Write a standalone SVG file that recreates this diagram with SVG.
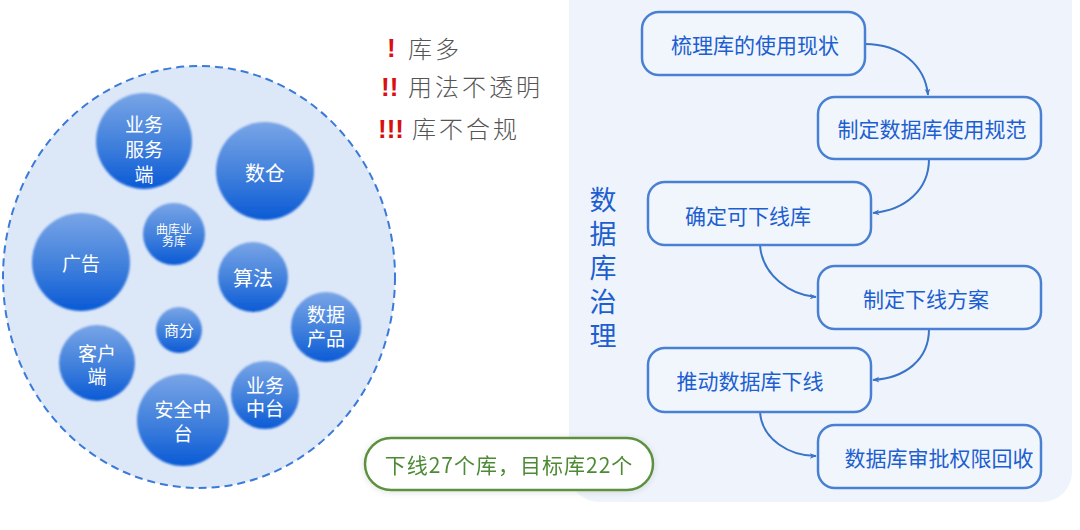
<svg xmlns="http://www.w3.org/2000/svg" width="1080" height="530" viewBox="0 0 1080 530">
<defs>
<linearGradient id="bub" x1="0" y1="0" x2="0" y2="1">
<stop offset="0" stop-color="#79a5e6"/>
<stop offset="0.55" stop-color="#3f7fdc"/>
<stop offset="1" stop-color="#0a5ad6"/>
</linearGradient>
<filter id="soft" x="-20%" y="-20%" width="140%" height="140%">
<feGaussianBlur stdDeviation="0.8"/>
</filter>
<filter id="shadow" x="-10%" y="-30%" width="120%" height="160%">
<feDropShadow dx="0" dy="1" stdDeviation="3" flood-color="#000" flood-opacity="0.12"/>
</filter>
<marker id="arr" viewBox="0 0 10 10" refX="9" refY="5" markerWidth="7" markerHeight="7" orient="auto" markerUnits="userSpaceOnUse">
<path d="M0,1 L10,5 L0,9 L3,5 Z" fill="#3a74c8"/>
</marker>
<style>
.bt{font-family:"Noto Sans CJK SC","Noto Sans",sans-serif;fill:#fff;text-anchor:middle;dominant-baseline:central}
.box{fill:#f1f6fd;stroke:#4a80d2;stroke-width:2.5}
.bx{font-family:"Noto Sans CJK SC","Noto Sans",sans-serif;fill:#1d5fd0;font-size:21px;text-anchor:middle;dominant-baseline:central}
.con{fill:none;stroke:#3a74c8;stroke-width:2}
.iss{font-family:"Noto Sans CJK SC","Noto Sans",sans-serif;fill:#555;font-size:24px;font-weight:300;letter-spacing:3px;dominant-baseline:central}
.ex{font-family:"Liberation Sans",sans-serif;fill:#d81010;font-size:26px;font-weight:bold;dominant-baseline:central}
</style>
</defs>
<rect width="1080" height="530" fill="#fff"/>
<g id="panel">
<rect x="569" y="-30" width="503" height="532" rx="30" fill="#eff4fc"/>
</g>
<g id="pool">
<ellipse cx="199" cy="277" rx="196" ry="211" fill="#dce7f8" stroke="#3a7ad8" stroke-width="2" stroke-dasharray="8,5"/>
</g>
<g id="bubbles">
<g id="b1"><circle cx="144" cy="141" r="48" fill="url(#bub)" filter="url(#soft)"/>
<text class="bt" font-size="19"><tspan x="144" y="123">业务</tspan><tspan x="144" y="148">服务</tspan><tspan x="144" y="173">端</tspan></text></g>
<g id="b2"><circle cx="265" cy="171" r="49" fill="url(#bub)" filter="url(#soft)"/>
<text class="bt" font-size="20" x="265" y="172">数仓</text></g>
<g id="b3"><circle cx="174" cy="234" r="31" fill="url(#bub)" filter="url(#soft)"/>
<text class="bt" font-size="12"><tspan x="174" y="228">曲库业</tspan><tspan x="174" y="240">务库</tspan></text></g>
<g id="b4"><circle cx="81" cy="262" r="49" fill="url(#bub)" filter="url(#soft)"/>
<text class="bt" font-size="19" x="81" y="262">广告</text></g>
<g id="b5"><circle cx="253" cy="277" r="35" fill="url(#bub)" filter="url(#soft)"/>
<text class="bt" font-size="20" x="253" y="277">算法</text></g>
<g id="b6"><circle cx="326" cy="327" r="35" fill="url(#bub)" filter="url(#soft)"/>
<text class="bt" font-size="19"><tspan x="326" y="313">数据</tspan><tspan x="326" y="337">产品</tspan></text></g>
<g id="b7"><circle cx="179" cy="330" r="23" fill="url(#bub)" filter="url(#soft)"/>
<text class="bt" font-size="15" x="179" y="329">商分</text></g>
<g id="b8"><circle cx="97" cy="363" r="38" fill="url(#bub)" filter="url(#soft)"/>
<text class="bt" font-size="19"><tspan x="97" y="352">客户</tspan><tspan x="97" y="375">端</tspan></text></g>
<g id="b9"><circle cx="183" cy="420" r="46" fill="url(#bub)" filter="url(#soft)"/>
<text class="bt" font-size="19"><tspan x="183" y="408">安全中</tspan><tspan x="183" y="432">台</tspan></text></g>
<g id="b10"><circle cx="265" cy="395" r="34" fill="url(#bub)" filter="url(#soft)"/>
<text class="bt" font-size="19"><tspan x="265" y="384">业务</tspan><tspan x="265" y="407">中台</tspan></text></g>
</g>
<g id="issues">
<text class="ex" x="387" y="48">!</text><text class="iss" x="408" y="47">库多</text>
<text class="ex" x="381" y="87">!!</text><text class="iss" x="408" y="85">用法不透明</text>
<text class="ex" x="378" y="129">!!!</text><text class="iss" x="412" y="127">库不合规</text>
</g>
<g id="result" filter="url(#shadow)">
<rect x="365" y="438" width="288" height="52" rx="26" fill="#fff" stroke="#5b9140" stroke-width="2.5"/>
<text x="509" y="464" font-family="Noto Sans CJK SC,Noto Sans,sans-serif" font-size="21" fill="#4e8a35" text-anchor="middle" dominant-baseline="central" letter-spacing="1">下线27个库，目标库22个</text>
</g>
<g id="title">
<text font-family="Noto Sans CJK SC,Noto Sans,sans-serif" font-size="27" fill="#1d5fd0" text-anchor="middle" dominant-baseline="central"><tspan x="603" y="198">数</tspan><tspan x="603" y="232">据</tspan><tspan x="603" y="266">库</tspan><tspan x="603" y="300">治</tspan><tspan x="603" y="334">理</tspan></text>
</g>
<g id="connectors">
<path class="con" d="M865,44 C900,44 925,65 928,95" marker-end="url(#arr)"/>
<path class="con" d="M929,159 C929,190 905,210 873,213" marker-end="url(#arr)"/>
<path class="con" d="M760,245 C762,275 790,295 816,297" marker-end="url(#arr)"/>
<path class="con" d="M929,329 C929,360 905,378 873,380" marker-end="url(#arr)"/>
<path class="con" d="M760,412 C762,440 790,456 816,456" marker-end="url(#arr)"/>
</g>
<g id="n1"><rect class="box" x="642" y="12" width="223" height="63" rx="17"/><text class="bx" x="755" y="44">梳理库的使用现状</text></g>
<g id="n2"><rect class="box" x="818" y="97" width="223" height="62" rx="17"/><text class="bx" x="932" y="128">制定数据库使用规范</text></g>
<g id="n3"><rect class="box" x="648" y="182" width="223" height="63" rx="17"/><text class="bx" x="748" y="215">确定可下线库</text></g>
<g id="n4"><rect class="box" x="818" y="266" width="223" height="63" rx="17"/><text class="bx" x="926" y="298">制定下线方案</text></g>
<g id="n5"><rect class="box" x="648" y="348" width="223" height="64" rx="17"/><text class="bx" x="750" y="380">推动数据库下线</text></g>
<g id="n6"><rect class="box" x="818" y="425" width="223" height="63" rx="17"/><text class="bx" x="939" y="457">数据库审批权限回收</text></g>
</svg>
